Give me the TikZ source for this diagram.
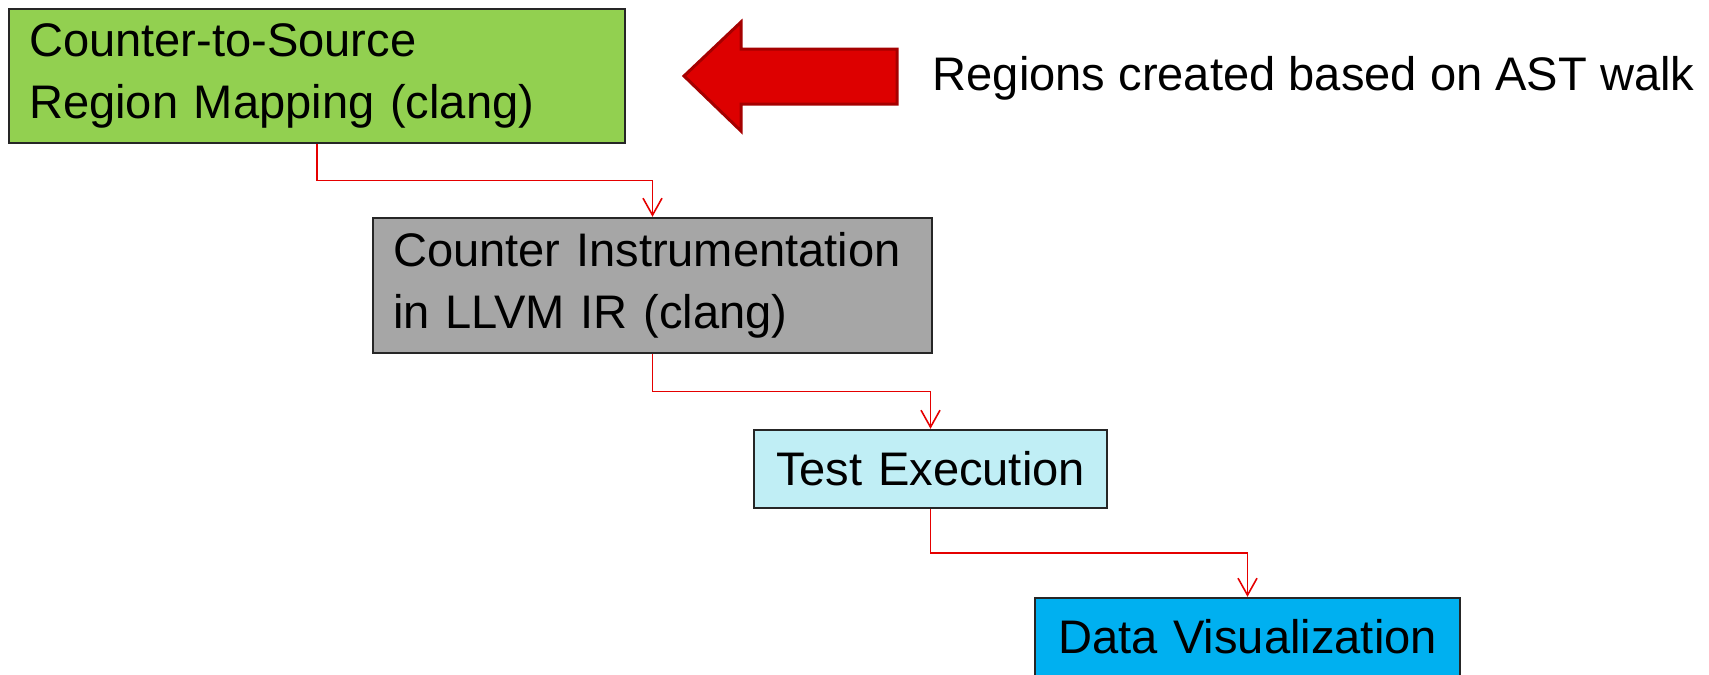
\documentclass[tikz,border=0pt]{standalone}
\usepackage{fontspec}
\setmainfont{Liberation Sans}
\usetikzlibrary{arrows.meta,calc}
\definecolor{verde}{HTML}{92D050}
\definecolor{gris}{HTML}{A6A6A6}
\definecolor{celeste}{HTML}{C0EEF5}
\definecolor{azul}{HTML}{00B0F0}
\definecolor{rojo}{HTML}{DD0000}
\definecolor{rojooscuro}{HTML}{A50000}
\tikzstyle{caja}=[draw=black!85, line width=0.7pt, inner xsep=0.2cm, inner ysep=0pt, font=\fontsize{13.4}{17.6}\selectfont]
\tikzstyle{enlace}=[draw=red!90!black, line width=0.45pt, -{Straight Barb[length=0.17cm, width=0.19cm]}]

\begin{document}
\begin{tikzpicture}
        \useasboundingbox (0,0) rectangle (17.09,-6.74);
        %% Etapas
        \node[caja, fill=verde, text width=5.76cm, align=left, minimum height=1.34cm] (map) at (3.17,-0.76) {Counter-to-Source\\Region Mapping (clang)};
        \node[caja, fill=gris, text width=5.19cm, align=left, minimum height=1.35cm] (instr) at (6.525,-2.855) {Counter Instrumentation\\in LLVM IR (clang)};
        \node[caja, fill=celeste, text width=3.13cm, align=center, minimum height=0.78cm] (exec) at (9.305,-4.69) {Test Execution};
        \node[caja, fill=azul, text width=3.85cm, align=center, minimum height=0.78cm] (vis) at (12.475,-6.37) {Data Visualization};

        %% Flecha grande y nota
        \draw[fill=rojo, draw=rojooscuro, line width=0.85pt, line join=miter] (6.84,-0.76) -- (7.41,-0.22) -- (7.41,-0.49) -- (8.97,-0.49) -- (8.97,-1.04) -- (7.41,-1.04) -- (7.41,-1.31) -- cycle;
        \node[anchor=west, inner sep=0pt, font=\fontsize{13.4}{17.6}\selectfont] (nota) at (9.32,-0.78) {Regions created based on AST walk};

        %% Conectores
        \draw[enlace] (map.south) |- ($(map.south)!0.5!(instr.north)$) -| (instr.north);
        \draw[enlace] (instr.south) |- ($(instr.south)!0.5!(exec.north)$) -| (exec.north);
        \draw[enlace] (exec.south) |- ($(exec.south)!0.5!(vis.north)$) -| (vis.north);
\end{tikzpicture}
\end{document}
